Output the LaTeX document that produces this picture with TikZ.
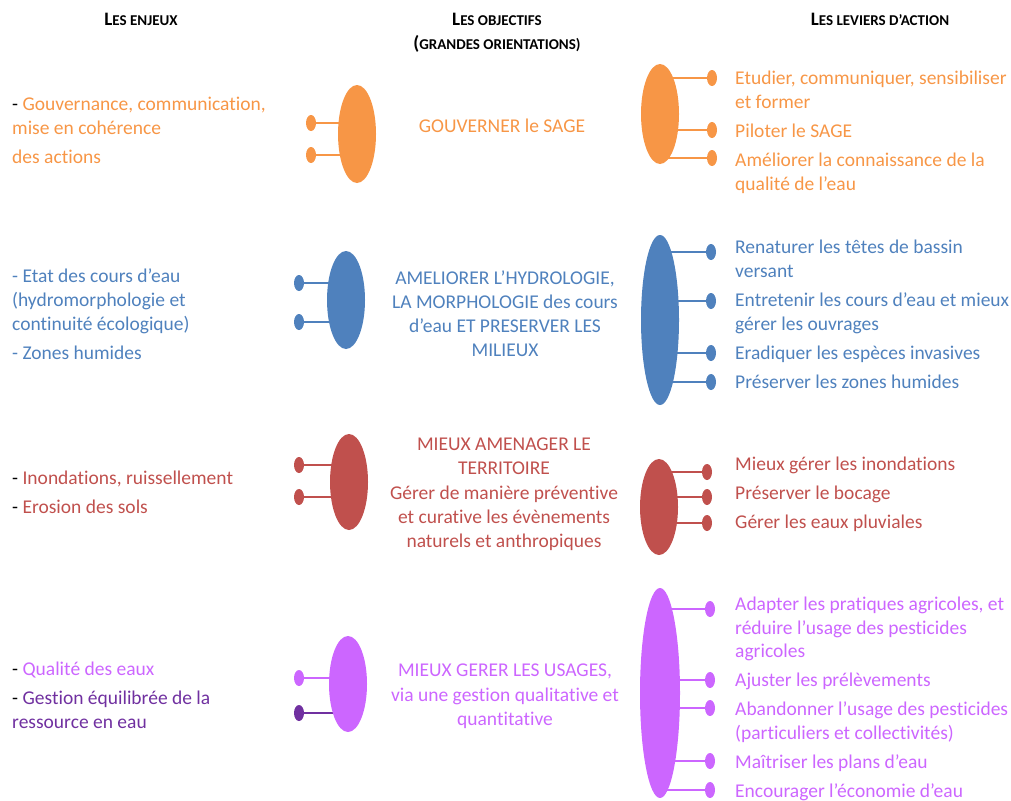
\documentclass[tikz,border=0pt]{standalone}
\usepackage{fontspec}
\setmainfont{Carlito}[Ligatures=NoCommon]
\usetikzlibrary{shapes.geometric,backgrounds}
\definecolor{cOr}{HTML}{F79646}
\definecolor{cBl}{HTML}{4F81BD}
\definecolor{cRd}{HTML}{C0504D}
\definecolor{cVi}{HTML}{CC66FF}
\definecolor{cPu}{HTML}{7030A0}
\newcommand{\hdr}[2]{{\fontsize{19}{21}\selectfont\bfseries #1}{\fontsize{15}{17}\selectfont\bfseries #2}}
\begin{document}
\begin{tikzpicture}[x=1pt, y=-1pt,
  big/.style={ellipse, fill=#1, draw=none, inner sep=0pt},
  dot/.style={ellipse, fill=#1, inner sep=0pt, minimum width=10pt, minimum height=16pt},
  ln/.style={draw=#1, line width=2pt},
  tl/.style={anchor=base west, inner sep=0pt, text=#1, font=\fontsize{19.5}{24}\selectfont},
  tc/.style={anchor=base, inner sep=0pt, text=#1, font=\fontsize{19.5}{24}\selectfont},
  hd/.style={anchor=base, inner sep=0pt}]
\useasboundingbox (0,0) rectangle (1011,800);
% headers
\node[hd] (h1) at (141,26) {\hdr{L}{ES ENJEUX}};
\node[hd] (h2) at (497,26) {\hdr{L}{ES OBJECTIFS}};
\node[hd] (h3) at (497,50) {\hdr{(}{GRANDES ORIENTATIONS)}};
\node[hd] (h4) at (880,26) {\hdr{L}{ES LEVIERS D’ACTION}};
% gouverner
\node[big=cOr, minimum width=38pt, minimum height=98pt] (e1m) at (357,134) {};
\node[dot=cOr] (d1a) at (311,123) {};
\node[dot=cOr] (d1b) at (311,155) {};
\node[big=cOr, minimum width=38pt, minimum height=100pt] (e1r) at (660,114) {};
\node[dot=cOr] (r1a) at (712,78) {};
\node[dot=cOr] (r1b) at (712,130) {};
\node[dot=cOr] (r1c) at (712,158) {};
\node[tl=cOr] (t1a) at (12,110) {\textcolor{black}{-} Gouvernance, communication,};
\node[tl=cOr] (t1b) at (12,134) {mise en cohérence};
\node[tl=cOr] (t1c) at (12,163) {des actions};
\node[tc=cOr] (o1a) at (502,132) {GOUVERNER le SAGE};
\node[tl=cOr] (v1a) at (735,84) {Etudier, communiquer, sensibiliser};
\node[tl=cOr] (v1b) at (735,108) {et former};
\node[tl=cOr] (v1c) at (735,137) {Piloter le SAGE};
\node[tl=cOr] (v1d) at (735,166) {Améliorer la connaissance de la};
\node[tl=cOr] (v1e) at (735,190) {qualité de l’eau};
% hydrologie
\node[big=cBl, minimum width=38pt, minimum height=98pt] (e2m) at (346,300) {};
\node[dot=cBl] (d2a) at (299,283) {};
\node[dot=cBl] (d2b) at (299,322) {};
\node[big=cBl, minimum width=38pt, minimum height=170pt] (e2r) at (660,320) {};
\node[dot=cBl] (r2a) at (711,252) {};
\node[dot=cBl] (r2b) at (711,301) {};
\node[dot=cBl] (r2c) at (711,353) {};
\node[dot=cBl] (r2d) at (711,382) {};
\node[tl=cBl] (t2a) at (12,282) {- Etat des cours d’eau};
\node[tl=cBl] (t2b) at (12,306) {(hydromorphologie et};
\node[tl=cBl] (t2c) at (12,330) {continuité écologique)};
\node[tl=cBl] (t2d) at (12,359) {- Zones humides};
\node[tc=cBl] (o2a) at (505,284) {AMELIORER L’HYDROLOGIE,};
\node[tc=cBl] (o2b) at (505,308) {LA MORPHOLOGIE des cours};
\node[tc=cBl] (o2c) at (505,332) {d’eau ET PRESERVER LES};
\node[tc=cBl] (o2d) at (505,356) {MILIEUX};
\node[tl=cBl] (v2a) at (735,253) {Renaturer les têtes de bassin};
\node[tl=cBl] (v2b) at (735,277) {versant};
\node[tl=cBl] (v2c) at (735,306) {Entretenir les cours d’eau et mieux};
\node[tl=cBl] (v2d) at (735,330) {gérer les ouvrages};
\node[tl=cBl] (v2e) at (735,359) {Eradiquer les espèces invasives};
\node[tl=cBl] (v2f) at (735,388) {Préserver les zones humides};
% territoire
\node[big=cRd, minimum width=38pt, minimum height=96pt] (e3m) at (349,482) {};
\node[dot=cRd] (d3a) at (299,465) {};
\node[dot=cRd] (d3b) at (299,497) {};
\node[big=cRd, minimum width=38pt, minimum height=96pt] (e3r) at (659,507) {};
\node[dot=cRd] (r3a) at (707,472) {};
\node[dot=cRd] (r3b) at (707,497) {};
\node[dot=cRd] (r3c) at (707,523) {};
\node[tl=cRd] (t3a) at (12,484) {\textcolor{black}{-} Inondations, ruissellement};
\node[tl=cRd] (t3b) at (12,513) {\textcolor{black}{-} Erosion des sols};
\node[tc=cRd] (o3a) at (504,450) {MIEUX AMENAGER LE};
\node[tc=cRd] (o3b) at (504,474) {TERRITOIRE};
\node[tc=cRd] (o3c) at (504,499) {Gérer de manière préventive};
\node[tc=cRd] (o3d) at (504,523) {et curative les évènements};
\node[tc=cRd] (o3e) at (504,547) {naturels et anthropiques};
\node[tl=cRd] (v3a) at (735,470) {Mieux gérer les inondations};
\node[tl=cRd] (v3b) at (735,499) {Préserver le bocage};
\node[tl=cRd] (v3c) at (735,528) {Gérer les eaux pluviales};
% usages
\node[big=cVi, minimum width=38pt, minimum height=96pt] (e4m) at (348,684) {};
\node[dot=cVi] (d4a) at (299,678) {};
\node[dot=cPu] (d4b) at (299,713) {};
\node[big=cVi, minimum width=40pt, minimum height=210pt] (e4r) at (660,693) {};
\node[dot=cVi] (r4a) at (710,609) {};
\node[dot=cVi] (r4b) at (710,680) {};
\node[dot=cVi] (r4c) at (710,708) {};
\node[dot=cVi] (r4d) at (710,761) {};
\node[dot=cVi] (r4e) at (710,790) {};
\node[tl=cVi] (t4a) at (12,675) {\textcolor{black}{-} Qualité des eaux};
\node[tl=cPu] (t4b) at (12,704) {\textcolor{black}{-} Gestion équilibrée de la};
\node[tl=cPu] (t4c) at (12,728) {ressource en eau};
\node[tc=cVi] (o4a) at (505,676) {MIEUX GERER LES USAGES,};
\node[tc=cVi] (o4b) at (505,701) {via une gestion qualitative et};
\node[tc=cVi] (o4c) at (505,725) {quantitative};
\node[tl=cVi] (v4a) at (735,610) {Adapter les pratiques agricoles, et};
\node[tl=cVi] (v4b) at (735,634) {réduire l’usage des pesticides};
\node[tl=cVi] (v4c) at (735,657) {agricoles};
\node[tl=cVi] (v4d) at (735,686) {Ajuster les prélèvements};
\node[tl=cVi] (v4e) at (735,715) {Abandonner l’usage des pesticides};
\node[tl=cVi] (v4f) at (735,739) {(particuliers et collectivités)};
\node[tl=cVi] (v4g) at (735,768) {Maîtriser les plans d’eau};
\node[tl=cVi] (v4h) at (735,797) {Encourager l’économie d’eau};
% connectors
\begin{pgfonlayer}{background}
\draw[ln=cOr] (d1a) -- (d1a -| e1m); \draw[ln=cOr] (d1b) -- (d1b -| e1m);
\draw[ln=cOr] (r1a) -- (r1a -| e1r); \draw[ln=cOr] (r1b) -- (r1b -| e1r);
\draw[ln=cOr] (r1c) -- (r1c -| e1r);
\draw[ln=cBl] (d2a) -- (d2a -| e2m); \draw[ln=cBl] (d2b) -- (d2b -| e2m);
\draw[ln=cBl] (r2a) -- (r2a -| e2r); \draw[ln=cBl] (r2b) -- (r2b -| e2r);
\draw[ln=cBl] (r2c) -- (r2c -| e2r); \draw[ln=cBl] (r2d) -- (r2d -| e2r);
\draw[ln=cRd] (d3a) -- (d3a -| e3m); \draw[ln=cRd] (d3b) -- (d3b -| e3m);
\draw[ln=cRd] (r3a) -- (r3a -| e3r); \draw[ln=cRd] (r3b) -- (r3b -| e3r);
\draw[ln=cRd] (r3c) -- (r3c -| e3r);
\draw[ln=cVi] (d4a) -- (d4a -| e4m); \draw[ln=cPu] (d4b) -- (d4b -| e4m);
\draw[ln=cVi] (r4a) -- (r4a -| e4r); \draw[ln=cVi] (r4b) -- (r4b -| e4r);
\draw[ln=cVi] (r4c) -- (r4c -| e4r); \draw[ln=cVi] (r4d) -- (r4d -| e4r);
\draw[ln=cVi] (r4e) -- (r4e -| e4r);
\end{pgfonlayer}
\end{tikzpicture}
\end{document}
